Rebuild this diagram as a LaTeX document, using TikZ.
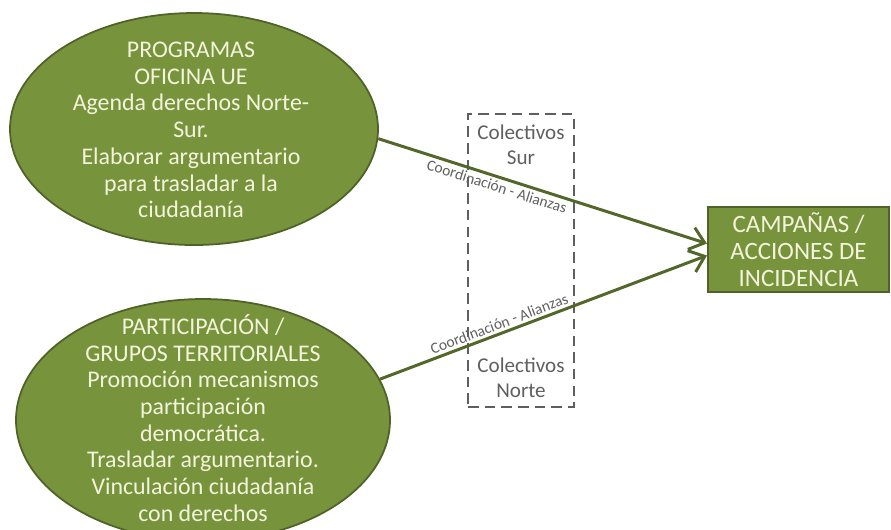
\documentclass[tikz,border=0pt]{standalone}
\usepackage{fontspec}
\setmainfont{Carlito}
\usepackage{tikz}
\usetikzlibrary{positioning,shapes.geometric,arrows.meta}

\definecolor{oliva}{HTML}{77933C}
\definecolor{olivaosc}{HTML}{4F6228}
\definecolor{crema}{HTML}{F4F4DC}
\definecolor{gristxt}{HTML}{5F5F5F}

\tikzset{
	bloque/.style={ellipse, fill=oliva, draw=olivaosc, line width=1pt, inner sep=0},
	textobloque/.style={align=center, text=crema, font=\fontsize{13.6}{15.2}\selectfont},
	campana/.style={rectangle, fill=oliva, draw=olivaosc, line width=1.2pt, inner sep=0,
		minimum width=181*0.02cm, minimum height=85*0.02cm, align=center, text=crema,
		font=\fontsize{14.2}{15.2}\selectfont},
	colectivo/.style={rectangle, draw=gristxt, dashed, dash pattern=on 6pt off 3.5pt,
		line width=1.6pt, minimum width=106*0.02cm, minimum height=293*0.02cm, inner sep=0},
	colectxt/.style={text=gristxt, align=center, inner sep=1pt, font=\fontsize{12}{14}\selectfont},
	flecha/.style={draw=olivaosc!90!oliva, line width=1.7pt,
		-{Straight Barb[length=8pt, width=13pt, line width=1.7pt]}},
	etiqueta/.style={text=gristxt, font=\fontsize{8.8}{9}\selectfont, sloped, inner sep=1.5pt}
}

\begin{document}
\begin{tikzpicture}[x=0.02cm, y=-0.02cm]
	\useasboundingbox (0,0) rectangle (891,529);
	\clip (0,0) rectangle (891,529);

	% bloques
	\node[bloque, minimum width=368*0.02cm, minimum height=232*0.02cm] (prog) at (194,129) {};
	\node[textobloque] (progtxt) at (191,130) {PROGRAMAS\\OFICINA UE\\Agenda derechos Norte-\\Sur.\\Elaborar argumentario\\para trasladar a la\\ciudadanía};

	\node[bloque, minimum width=374*0.02cm, minimum height=242*0.02cm] (part) at (203,420) {};
	\node[textobloque] (parttxt) at (203,418) {PARTICIPACIÓN /\\GRUPOS TERRITORIALES\\Promoción mecanismos\\participación\\democrática.\\Trasladar argumentario.\\Vinculación ciudadanía\\con derechos};

	\node[campana] (camp) at (798.5,249.5) {CAMPAÑAS /\\ACCIONES DE\\INCIDENCIA};

	% colectivos
	\node[colectivo] (colec) at (521,260.5) {};
	\node[colectxt, below=6pt of colec.north] (sur) {Colectivos\\Sur};
	\node[colectxt, above=5pt of colec.south] (norte) {Colectivos\\Norte};

	% flechas
	\draw[flecha] (prog.-3) -- node[etiqueta, pos=0.37, below] {Coordinación - Alianzas} ([yshift=0.12cm]camp.west);
	\draw[flecha] (part.13) -- node[etiqueta, pos=0.375, above] {Coordinación - Alianzas} ([yshift=-0.12cm]camp.west);
\end{tikzpicture}
\end{document}
